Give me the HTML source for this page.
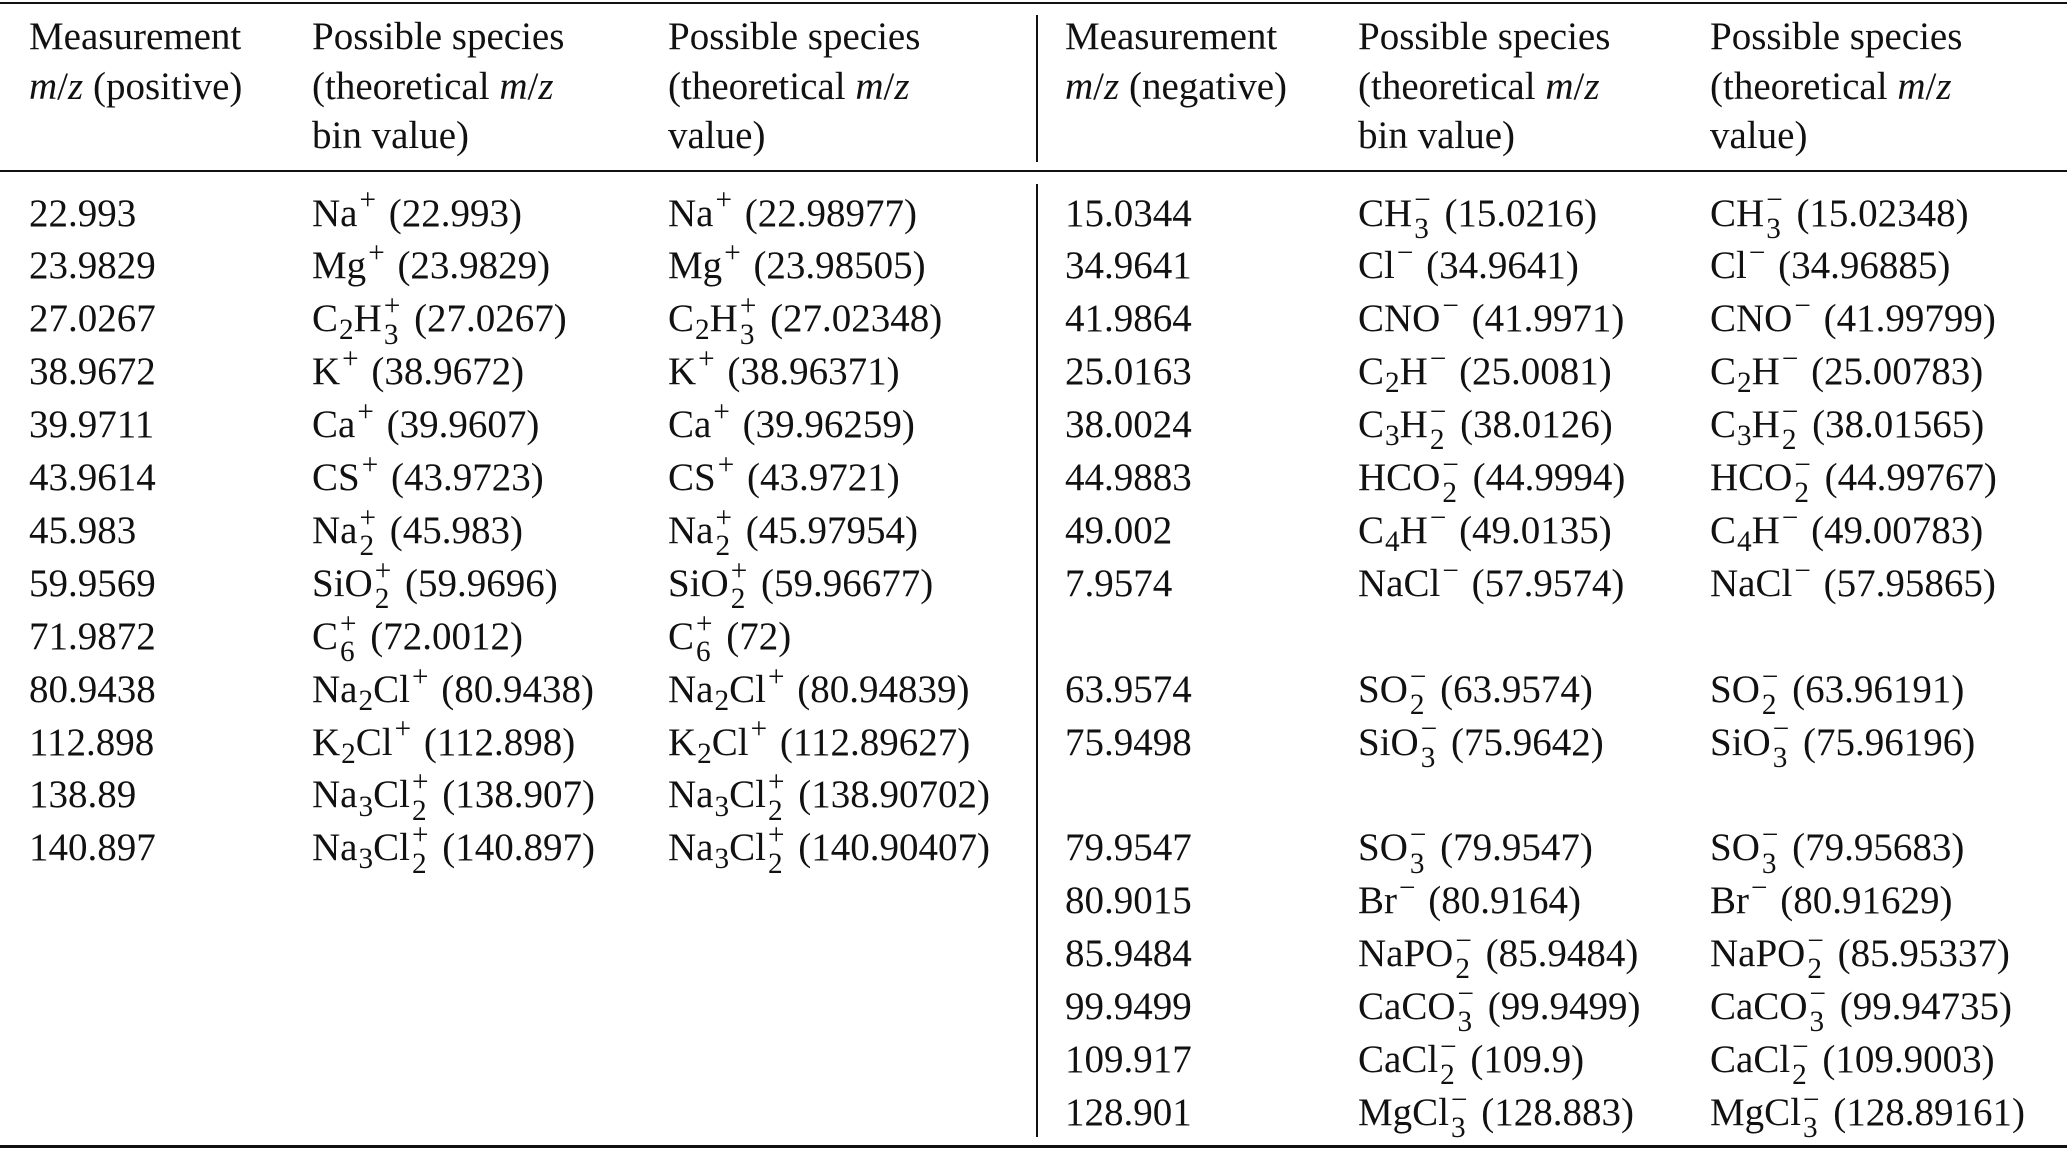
<!DOCTYPE html>
<html><head><meta charset="utf-8">
<style>
html,body{margin:0;padding:0;background:#fff;}
body{width:2067px;height:1151px;position:relative;overflow:hidden;font-family:"Liberation Serif","DejaVu Serif","Times New Roman",serif;font-size:39px;color:#111;}
.rule{position:absolute;left:0;width:2067px;background:#111;}
.vr{position:absolute;left:1036px;width:2px;background:#111;}
.cell{position:absolute;white-space:nowrap;line-height:50px;height:50px;}
sub,sup{font-size:0.75em;line-height:0;}
sup{vertical-align:0.55em;margin-left:2px;margin-right:3px;}
sub{vertical-align:-0.28em;margin-left:1px;}
.ss{position:relative;display:inline-block;font-size:0.75em;line-height:1;margin-left:2px;margin-right:4px;}
.ss .p{position:relative;top:-0.55em;}
.ss .q{position:absolute;left:0;top:0.42em;}
i{font-style:italic;}
</style></head>
<body>
<div class="rule" style="top:2px;height:2px"></div>
<div class="rule" style="top:170px;height:2px"></div>
<div class="rule" style="top:1145px;height:3px"></div>
<div class="vr" style="top:15px;height:147px"></div>
<div class="vr" style="top:184px;height:953px"></div>
<div id="t"></div>
<script>
const colX=[29,312,668,1065,1358,1710];
const headers=[
["Measurement","<i>m</i>/<i>z</i> (positive)"],
["Possible species","(theoretical <i>m</i>/<i>z</i>","bin value)"],
["Possible species","(theoretical <i>m</i>/<i>z</i>","value)"],
["Measurement","<i>m</i>/<i>z</i> (negative)"],
["Possible species","(theoretical <i>m</i>/<i>z</i>","bin value)"],
["Possible species","(theoretical <i>m</i>/<i>z</i>","value)"]];
const headerY=[37,87,136];
const S=(a,b)=>'<span class="ss"><span class="p">'+a+'</span><span class="q">'+b+'</span></span>';
const posRows=[
["22.993","Na<sup>+</sup>(22.993)","Na<sup>+</sup>(22.98977)"],
["23.9829","Mg<sup>+</sup>(23.9829)","Mg<sup>+</sup>(23.98505)"],
["27.0267","C<sub>2</sub>H"+S("+","3")+"(27.0267)","C<sub>2</sub>H"+S("+","3")+"(27.02348)"],
["38.9672","K<sup>+</sup>(38.9672)","K<sup>+</sup>(38.96371)"],
["39.9711","Ca<sup>+</sup>(39.9607)","Ca<sup>+</sup>(39.96259)"],
["43.9614","CS<sup>+</sup>(43.9723)","CS<sup>+</sup>(43.9721)"],
["45.983","Na"+S("+","2")+"(45.983)","Na"+S("+","2")+"(45.97954)"],
["59.9569","SiO"+S("+","2")+"(59.9696)","SiO"+S("+","2")+"(59.96677)"],
["71.9872","C"+S("+","6")+"(72.0012)","C"+S("+","6")+"(72)"],
["80.9438","Na<sub>2</sub>Cl<sup>+</sup>(80.9438)","Na<sub>2</sub>Cl<sup>+</sup>(80.94839)"],
["112.898","K<sub>2</sub>Cl<sup>+</sup>(112.898)","K<sub>2</sub>Cl<sup>+</sup>(112.89627)"],
["138.89","Na<sub>3</sub>Cl"+S("+","2")+"(138.907)","Na<sub>3</sub>Cl"+S("+","2")+"(138.90702)"],
["140.897","Na<sub>3</sub>Cl"+S("+","2")+"(140.897)","Na<sub>3</sub>Cl"+S("+","2")+"(140.90407)"]];
const negRows=[
["15.0344","CH"+S("−","3")+"(15.0216)","CH"+S("−","3")+"(15.02348)"],
["34.9641","Cl<sup>−</sup>(34.9641)","Cl<sup>−</sup>(34.96885)"],
["41.9864","CNO<sup>−</sup>(41.9971)","CNO<sup>−</sup>(41.99799)"],
["25.0163","C<sub>2</sub>H<sup>−</sup>(25.0081)","C<sub>2</sub>H<sup>−</sup>(25.00783)"],
["38.0024","C<sub>3</sub>H"+S("−","2")+"(38.0126)","C<sub>3</sub>H"+S("−","2")+"(38.01565)"],
["44.9883","HCO"+S("−","2")+"(44.9994)","HCO"+S("−","2")+"(44.99767)"],
["49.002","C<sub>4</sub>H<sup>−</sup>(49.0135)","C<sub>4</sub>H<sup>−</sup>(49.00783)"],
["7.9574","NaCl<sup>−</sup>(57.9574)","NaCl<sup>−</sup>(57.95865)"],
null,
["63.9574","SO"+S("−","2")+"(63.9574)","SO"+S("−","2")+"(63.96191)"],
["75.9498","SiO"+S("−","3")+"(75.9642)","SiO"+S("−","3")+"(75.96196)"],
null,
["79.9547","SO"+S("−","3")+"(79.9547)","SO"+S("−","3")+"(79.95683)"],
["80.9015","Br<sup>−</sup>(80.9164)","Br<sup>−</sup>(80.91629)"],
["85.9484","NaPO"+S("−","2")+"(85.9484)","NaPO"+S("−","2")+"(85.95337)"],
["99.9499","CaCO"+S("−","3")+"(99.9499)","CaCO"+S("−","3")+"(99.94735)"],
["109.917","CaCl"+S("−","2")+"(109.9)","CaCl"+S("−","2")+"(109.9003)"],
["128.901","MgCl"+S("−","3")+"(128.883)","MgCl"+S("−","3")+"(128.89161)"]];
const t=document.getElementById('t');
function cell(x,cy,html,name){
  const d=document.createElement('div');
  d.className='cell';
  d.style.left=x+'px';d.style.top=(cy-25)+'px';
  d.innerHTML=html.replace(/\((\d)/g,' ($1');
  
  
  t.appendChild(d);
}
headers.forEach((h,c)=>h.forEach((line,i)=>cell(colX[c],headerY[i],line,'header-col'+(c+1)+'-line'+(i+1))));
const y0=213.5, dy=52.9;
posRows.forEach((r,i)=>r.forEach((v,c)=>cell(colX[c],y0+i*dy,v,'pos-row'+(i+1)+'-col'+(c+1))));
negRows.forEach((r,i)=>{ if(r) r.forEach((v,c)=>cell(colX[c+3],y0+i*dy,v,'neg-row'+(i+1)+'-col'+(c+1)));});
</script>
</body></html>
